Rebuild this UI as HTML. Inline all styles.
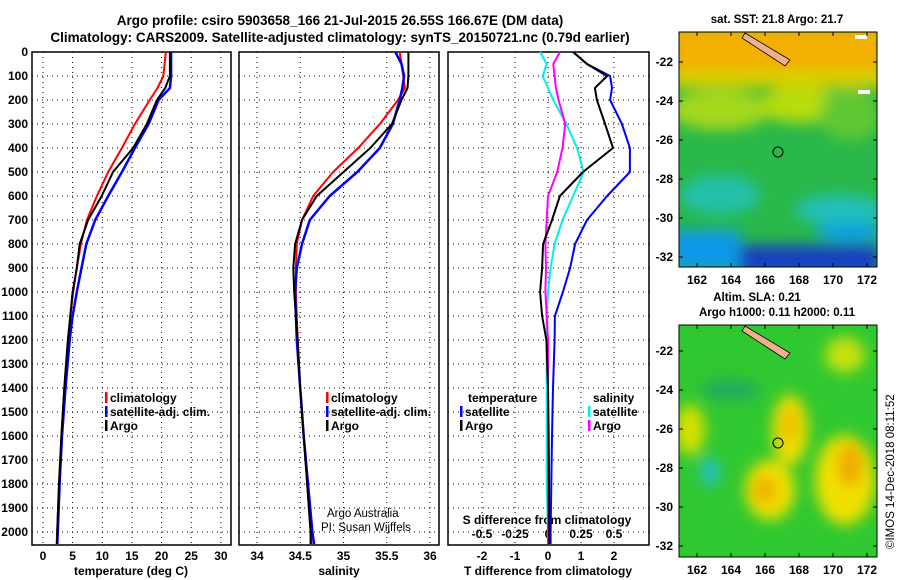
<!DOCTYPE html>
<html><head><meta charset="utf-8">
<style>
body{margin:0;background:#fff;}
svg{display:block;font-family:"Liberation Sans",sans-serif;font-weight:bold;}
</style></head>
<body>
<svg id="c" width="900" height="580" viewBox="0 0 900 580" xmlns="http://www.w3.org/2000/svg">
<defs>
<filter id="blur6"><feGaussianBlur stdDeviation="7"/></filter>
<clipPath id="clipTop"><rect x="679" y="32" width="198" height="235"/></clipPath>
<clipPath id="clipBot"><rect x="679" y="325" width="198" height="232"/></clipPath>
</defs>
<text x="340" y="25" font-size="13.5" text-anchor="middle">Argo profile: csiro 5903658_166 21-Jul-2015 26.55S 166.67E (DM data)</text>
<text x="340" y="42" font-size="13.5" text-anchor="middle">Climatology: CARS2009. Satellite-adjusted climatology: synTS_20150721.nc (0.79d earlier)</text>

<!-- SST map -->
<g clip-path="url(#clipTop)">
<rect x="679" y="32" width="198" height="235" fill="#2ab84a"/>
<g filter="url(#blur6)">
<rect x="670" y="25" width="215" height="50" fill="#f4b000"/>
<rect x="670" y="70" width="215" height="18" fill="#d8d000"/>
<ellipse cx="720" cy="110" rx="50" ry="20" fill="#a6d81a"/>
<ellipse cx="800" cy="105" rx="40" ry="18" fill="#b8dc10"/>
<ellipse cx="850" cy="115" rx="30" ry="25" fill="#60c830"/>
<ellipse cx="720" cy="195" rx="40" ry="20" fill="#20c0a8"/>
<ellipse cx="840" cy="210" rx="45" ry="15" fill="#20c0b8"/>
<rect x="670" y="230" width="70" height="40" fill="#1098e8"/>
<rect x="740" y="245" width="140" height="30" fill="#1840c0"/>
<ellipse cx="850" cy="232" rx="35" ry="10" fill="#10a0e0"/>
</g>
<path d="M745,33 L790,60 L785,66 L742,38 Z" fill="#f0b090" stroke="#000" stroke-width="0.8"/>
<circle cx="778" cy="152" r="5" fill="none" stroke="#000" stroke-width="1"/>
<rect x="855" y="35" width="12" height="4" fill="#fff"/><rect x="858" y="90" width="12" height="4" fill="#fff"/>
</g>
<rect x="679" y="32" width="198" height="235" fill="none" stroke="#000" stroke-width="1"/>
<text x="777" y="23" font-size="11.5" text-anchor="middle">sat. SST: 21.8 Argo: 21.7</text>

<!-- SLA map -->
<g clip-path="url(#clipBot)">
<rect x="679" y="325" width="198" height="232" fill="#30c830"/>
<g filter="url(#blur6)">
<ellipse cx="790" cy="430" rx="18" ry="35" fill="#f0e000"/>
<ellipse cx="790" cy="425" rx="8" ry="18" fill="#f0b800"/>
<ellipse cx="770" cy="490" rx="25" ry="30" fill="#f0e000"/>
<ellipse cx="765" cy="490" rx="12" ry="14" fill="#f0b000"/>
<ellipse cx="845" cy="480" rx="30" ry="45" fill="#f0e000"/>
<ellipse cx="850" cy="465" rx="12" ry="22" fill="#f0a800"/>
<ellipse cx="690" cy="430" rx="15" ry="25" fill="#d8e000"/>
<ellipse cx="845" cy="355" rx="20" ry="18" fill="#c8e010"/>
<ellipse cx="710" cy="472" rx="10" ry="14" fill="#20c0c8"/>
<ellipse cx="730" cy="390" rx="30" ry="10" fill="#20a860"/>
</g>
<path d="M745,326 L790,353 L785,359 L742,331 Z" fill="#f0b090" stroke="#000" stroke-width="0.8"/>
<circle cx="778" cy="443" r="5" fill="none" stroke="#000" stroke-width="1"/>
</g>
<rect x="679" y="325" width="198" height="232" fill="none" stroke="#000" stroke-width="1"/>
<text x="757" y="301" font-size="11.5" text-anchor="middle">Altim. SLA: 0.21</text>
<text x="777" y="316" font-size="11.5" text-anchor="middle">Argo h1000: 0.11 h2000: 0.11</text>
<text transform="translate(894,549) rotate(-90)" font-size="11.5" font-weight="normal">©IMOS 14-Dec-2018 08:11:52</text>

<g id="plots"></g>
</svg>
<script>
// ---- data ----
const tDepth = [0,50,100,150,200,300,400,500,600,700,800,900,1000,1100,1200,1400,1600,1800,2000,2050];
const tClim  = [20.7,20.5,20.3,19.3,18.0,15.5,13.3,11.0,9.1,7.4,6.4,5.7,5.1,4.6,4.2,3.6,3.1,2.7,2.4,2.3];
const tSat   = [21.6,21.6,21.6,21.4,19.5,17.8,15.5,13.3,11.0,8.8,7.3,6.5,5.7,5.0,4.5,3.8,3.2,2.8,2.5,2.4];
const tArgo  = [21.4,21.4,21.4,20.6,19.2,17.5,15.2,11.8,9.9,7.6,6.2,5.7,5.0,4.6,4.2,3.6,3.1,2.7,2.4,2.4];
const sClim  = [35.65,35.67,35.69,35.71,35.63,35.42,35.17,34.88,34.65,34.52,34.46,34.45,34.45,34.46,34.47,34.5,34.54,34.58,34.62,34.63];
const sSat   = [35.60,35.67,35.70,35.68,35.65,35.57,35.42,35.16,34.84,34.61,34.52,34.46,34.44,34.45,34.46,34.5,34.54,34.59,34.64,34.66];
const sArgo  = [35.75,35.75,35.75,35.74,35.67,35.56,35.31,35.00,34.69,34.52,34.44,34.42,34.43,34.45,34.47,34.5,34.54,34.58,34.62,34.62];
const dTsat  = [0.76,1.18,1.88,1.94,1.88,2.24,2.48,2.48,1.79,1.18,0.82,0.67,0.45,0.21,0.2,0.15,0.12,0.1,0.08,0.08];
const dTargo = [0.76,1.18,1.79,1.42,1.48,1.73,1.97,1.06,0.36,0.12,-0.15,-0.18,-0.24,-0.18,-0.05,0.0,0.02,0.03,0.04,0.04];
const dSsat  = [-0.06,-0.01,-0.04,0.0,0.04,0.14,0.22,0.27,0.19,0.11,0.05,0.02,0.0,-0.01,-0.01,-0.01,-0.01,-0.01,0.0,0.0];
const dSargo = [0.09,0.04,0.05,0.06,0.08,0.13,0.11,0.07,0.0,-0.01,-0.02,-0.015,-0.02,-0.01,0.0,0.0,0.0,0.0,0.0,0.0];
const depthTicks = [0,100,200,300,400,500,600,700,800,900,1000,1100,1200,1300,1400,1500,1600,1700,1800,1900,2000];
const tTicks = [0,5,10,15,20,25,30];
const sTicks = [34,34.5,35,35.5,36];
const dTTicks = [-2,-1,0,1,2];
const dSTicks = [-0.5,-0.25,0,0.25,0.5];
const sTickLabels = ["-0.5","-0.25","0","0.25","0.5"];
const lonTicks = [162,164,166,168,170,172];
const latTicks = [-22,-24,-26,-28,-30,-32];

const NS="http://www.w3.org/2000/svg";
const g=document.getElementById('plots');
function el(tag,attrs,parent){const e=document.createElementNS(NS,tag);for(const k in attrs)e.setAttribute(k,attrs[k]);(parent||g).appendChild(e);return e;}
const Y0=52, PY=0.24;
const yS=d=>Y0+d*PY;
const BOT=545;
const panels=[
 {x0:32,x1:231,v0:-1.85,v1:31.7,name:'temperature-panel'},
 {x0:239,x1:439,v0:33.792,v1:36.104,name:'salinity-panel'},
 {x0:448,x1:649,v0:-3.03,v1:3.06,name:'difference-panel'}];
panels.forEach(p=>{p.f=v=>p.x0+(v-p.v0)/(p.v1-p.v0)*(p.x1-p.x0);});
const sDiffX=v=>548+v*132;

function grid(p,ticks){
 const gg=el('g',{});
 
 
 ticks.forEach(t=>{const x=p.f(t);
  const l=el('line',{x1:x,x2:x,y1:Y0,y2:BOT,stroke:'#000','stroke-width':1,'stroke-dasharray':'1,4'},gg);
  });
 depthTicks.forEach(d=>{const y=yS(d);
  const l=el('line',{x1:p.x0,x2:p.x1,y1:y,y2:y,stroke:'#000','stroke-width':1,'stroke-dasharray':'1,4'},gg);
  });
 const r=el('rect',{x:p.x0,y:Y0,width:p.x1-p.x0,height:BOT-Y0,fill:'none',stroke:'#000','stroke-width':1.5},gg);
 
 return gg;
}
function line(fx,vals,color,w,name){
 let dStr='';
 vals.forEach((v,i)=>{dStr+=(i?'L':'M')+fx(v).toFixed(1)+','+yS(tDepth[i]).toFixed(1);});
 const e=el('path',{d:dStr,fill:'none',stroke:color,'stroke-width':w,'stroke-linejoin':'round'});
 
}
function text(x,y,s,opts){const t=el('text',Object.assign({x:x,y:y,'font-size':12},opts||{}));t.textContent=s;return t;}

depthTicks.forEach(d=>{const t=text(28,yS(d)+4,String(d),{'text-anchor':'end'});
 });

const p1=panels[0];grid(p1,tTicks);
tTicks.forEach(v=>{const t=text(p1.f(v),560,String(v),{'text-anchor':'middle'});
 });
let a=text(131,575,'temperature (deg C)',{'text-anchor':'middle'});

line(p1.f,tClim,'#f00',2,'temperature-climatology-line');
line(p1.f,tSat,'#00f',2.5,'temperature-satellite-line');
line(p1.f,tArgo,'#000',2,'temperature-argo-line');

const p2=panels[1];grid(p2,sTicks);
sTicks.forEach(v=>{const t=text(p2.f(v),560,String(v),{'text-anchor':'middle'});
 });
a=text(339,575,'salinity',{'text-anchor':'middle'});

line(p2.f,sClim,'#f00',2,'salinity-climatology-line');
line(p2.f,sSat,'#00f',2.5,'salinity-satellite-line');
line(p2.f,sArgo,'#000',2,'salinity-argo-line');
a=text(327,517,'Argo Australia',{'font-weight':'normal','font-size':11.5});

a=text(321,531,'PI: Susan Wijffels',{'font-weight':'normal','font-size':11.5});


const p3=panels[2];grid(p3,dTTicks);
dTTicks.forEach(v=>{const t=text(p3.f(v),560,String(v),{'text-anchor':'middle'});
 });
a=text(548,575,'T difference from climatology',{'text-anchor':'middle'});

a=text(547,524,'S difference from climatology',{'text-anchor':'middle'});

dSTicks.forEach((v,i)=>{const t=text(sDiffX(v),538,sTickLabels[i],{'text-anchor':'middle'});
 });
line(sDiffX,dSsat,'#0ee',2,'s-diff-satellite-line');
line(sDiffX,dSargo,'#f0f',2,'s-diff-argo-line');
line(p3.f,dTsat,'#00f',2,'t-diff-satellite-line');
line(p3.f,dTargo,'#000',2,'t-diff-argo-line');

function legItem(x,y,color,label,name){
 const gg=el('g',{});
 
 el('rect',{x:x,y:y-10,width:2.5,height:11,fill:color},gg);
 const t=el('text',{x:x+5,y:y,'font-size':12},gg);t.textContent=label;
}
legItem(105,402,'#f00','climatology','legend-climatology');
legItem(105,416,'#00f','satellite-adj. clim.','legend-satellite-adj');
legItem(105,430,'#000','Argo','legend-argo');
legItem(326,402,'#f00','climatology','legend-s-climatology');
legItem(326,416,'#00f','satellite-adj. clim.','legend-s-satellite-adj');
legItem(326,430,'#000','Argo','legend-s-argo');
a=text(468,402,'temperature');
legItem(460,416,'#00f','satellite','legend-t-satellite');
legItem(460,430,'#000','Argo','legend-t-argo');
a=text(593,402,'salinity');
legItem(588,416,'#0ee','satellite','legend-s-satellite');
legItem(588,430,'#f0f','Argo','legend-s-argo-diff');

function mapAxes(yTop,yBot,lat22,lat32,name){
 const gg=el('g',{});
 const lonX=l=>697+(l-162)*17;
 lonTicks.forEach(l=>{const x=lonX(l);
  el('line',{x1:x,x2:x,y1:yBot,y2:yBot-4,stroke:'#000'},gg);
  el('line',{x1:x,x2:x,y1:yTop,y2:yTop+4,stroke:'#000'},gg);
  const t=el('text',{x:x,y:yBot+17,'font-size':12,'text-anchor':'middle'},gg);t.textContent=String(l);});
 const latY=v=>lat22+(-22-v)*(lat32-lat22)/10;
 latTicks.forEach(v=>{const y=latY(v);
  el('line',{x1:877,x2:873,y1:y,y2:y,stroke:'#000'},gg);
  el('line',{x1:679,x2:683,y1:y,y2:y,stroke:'#000'},gg);
  const t=el('text',{x:673,y:y+4,'font-size':12,'text-anchor':'end'},gg);t.textContent=String(v);});
}
mapAxes(32,267,62,257,'sst-map-axes');
mapAxes(325,557,351,546,'sla-map-axes');
</script>
</body></html>
